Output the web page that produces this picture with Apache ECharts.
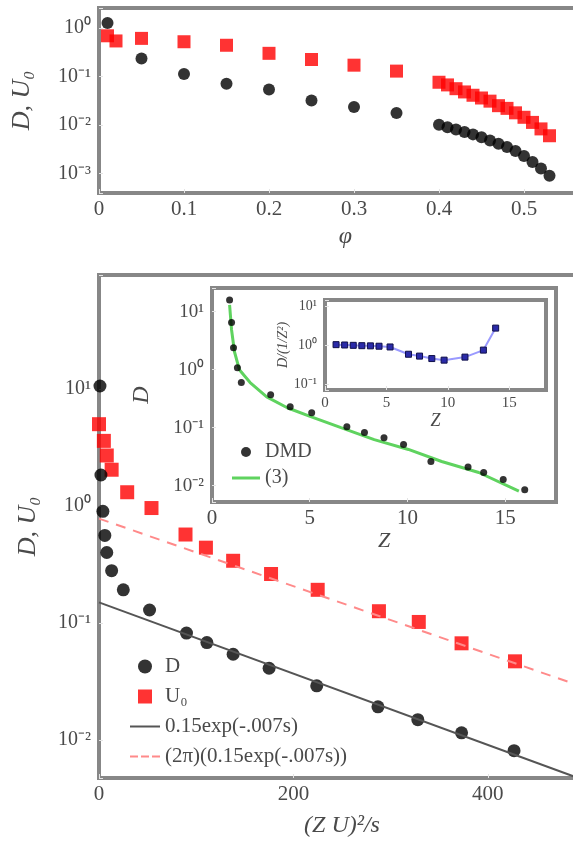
<!DOCTYPE html>
<html>
<head>
<meta charset="utf-8">
<script src="https://cdn.jsdelivr.net/npm/echarts@6/dist/echarts.min.js"></script>
<style>
html, body { margin: 0; padding: 0; background: #fff; }
#chart { width: 573px; height: 850px; }
</style>
</head>
<body>
<div id="chart"></div>
<script>
// top panel: D and U0 against phi
const phiD = [0.01, 0.05, 0.10, 0.15, 0.20, 0.25, 0.30, 0.35, 0.40, 0.41, 0.42, 0.43, 0.44,
    0.45, 0.46, 0.47, 0.48, 0.49, 0.50, 0.51, 0.52, 0.53];
const topD = [1.27, 0.235, 0.112, 0.071, 0.054, 0.032, 0.0235, 0.0176, 0.0101, 0.0090, 0.0081, 0.0072, 0.0064,
    0.0056, 0.0048, 0.0041, 0.0035, 0.0029, 0.0023, 0.00173, 0.00127, 0.0009];
const phiU = [0.01, 0.02, 0.05, 0.10, 0.15, 0.20, 0.25, 0.30, 0.35, 0.40, 0.41, 0.42, 0.43, 0.44,
    0.45, 0.46, 0.47, 0.48, 0.49, 0.50, 0.51, 0.52, 0.53];
const topU = [0.69, 0.54, 0.61, 0.52, 0.44, 0.30, 0.224, 0.171, 0.129, 0.076, 0.067, 0.056, 0.048, 0.041,
    0.036, 0.031, 0.025, 0.022, 0.0178, 0.0144, 0.0113, 0.0083, 0.006];

// bottom panel: D and U0 against (Z U)^2/s
const sD = [1, 2, 4, 6, 8, 13, 25, 52, 90, 111, 138, 175, 224, 287, 328, 373, 427];
const bottomD = [10.6, 1.84, 0.90, 0.56, 0.40, 0.28, 0.192, 0.129, 0.082, 0.068, 0.054, 0.041, 0.029,
    0.0192, 0.0149, 0.0115, 0.0081];
const sU = [0, 5, 8, 13, 29, 54, 89, 110, 138, 177, 225, 288, 329, 373, 428];
const bottomU = [5.0, 3.6, 2.7, 2.04, 1.31, 0.96, 0.57, 0.44, 0.34, 0.262, 0.192, 0.126, 0.102, 0.067, 0.047];
const fitS = [0, 500];
const fitD = [0.15, 0.0045];
const fitU = [0.78, 0.028];

// inset: D against Z
const zDMD = [0.9, 1.0, 1.1, 1.3, 1.5, 3.0, 4.0, 5.1, 6.9, 7.8, 8.8, 9.8, 11.2, 13.1, 13.9, 14.9, 16.0];
const dDMD = [16, 6.5, 2.4, 1.08, 0.6, 0.37, 0.23, 0.18, 0.104, 0.082, 0.067, 0.051, 0.026, 0.021,
    0.0168, 0.0127, 0.0085];
const zFit = [0.9, 1.0, 1.15, 1.4, 1.95, 2.8, 3.85, 5.05, 6.6, 8.3, 10.05, 11.75, 13.65, 15.7];
const dFit = [13.2, 4.9, 2.04, 1.0, 0.60, 0.34, 0.22, 0.155, 0.100, 0.062, 0.042, 0.026, 0.0168, 0.008];

// small inset: ratio against Z
const zRatio = [0.9, 1.6, 2.3, 3.0, 3.7, 4.4, 5.3, 6.8, 7.7, 8.7, 9.7, 11.4, 12.9, 13.9];
const ratio = [1.02, 1.0, 0.98, 0.96, 0.95, 0.93, 0.89, 0.58, 0.52, 0.45, 0.41, 0.49, 0.74, 2.7];

const serif = 'Liberation Serif';
const frame = '#878787';
const ink = '#4a4a4a';

function zip(xs, ys) {
    return xs.map(function (x, i) { return [x, ys[i]]; });
}

const supChars = {'-': '⁻', '0': '⁰', '1': '¹', '2': '²', '3': '³', '4': '⁴'};
function powLabel(v) {
    const e = Math.log10(v);
    const r = Math.round(e);
    if (Math.abs(e - r) > 1e-6) return '';
    return '10' + String(r).split('').map(function (c) { return supChars[c]; }).join('');
}

function makeGrid(left, top, right, bottom) {
    return {
        left: left, top: top, right: right, bottom: bottom,
        show: true, backgroundColor: '#fff',
        borderColor: frame, borderWidth: 4,
        containLabel: false, outerBoundsMode: 'none'
    };
}

function valueX(gridIndex, min, max, interval, fontSize, name, nameGap, nameSize) {
    return {
        type: 'value', gridIndex: gridIndex, min: min, max: max, interval: interval,
        splitLine: {show: false},
        axisLine: {show: false},
        axisTick: {inside: true, length: 4, lineStyle: {color: '#e4e4e4'}},
        axisLabel: {showMaxLabel: false, fontFamily: serif, fontSize: fontSize, color: ink, margin: 6},
        name: name, nameLocation: 'middle', nameGap: nameGap,
        nameTextStyle: {fontFamily: serif, fontStyle: 'italic', fontSize: nameSize, color: ink}
    };
}

function logY(gridIndex, min, max, fontSize, name, nameGap, nameSize) {
    return {
        type: 'log', logBase: 10, gridIndex: gridIndex, min: min, max: max,
        splitLine: {show: false},
        axisLine: {show: false},
        axisTick: {inside: true, length: 4, lineStyle: {color: '#e4e4e4'}},
        axisLabel: {formatter: powLabel, fontFamily: serif, fontSize: fontSize, color: ink, margin: 8},
        name: name, nameLocation: 'middle', nameGap: nameGap, nameRotate: 90,
        nameTextStyle: {fontFamily: serif, fontStyle: 'italic', fontSize: nameSize, color: ink}
    };
}

// legend icons: square marker, solid and dashed line
const squareIcon = 'path://M0,0h10v10h-10z';
const solidIcon = 'path://M0,0h30v2h-30z';
const dashIcon = 'path://M0,0h8v2h-8zM11,0h8v2h-8zM22,0h8v2h-8z';
const greenIcon = 'path://M0,0h28v3h-28z';

const chart = echarts.init(document.getElementById('chart'));

const option = {
    animation: false,
    backgroundColor: '#fff',
    grid: [
        makeGrid(99, 8, -19, 657),
        makeGrid(99, 275, -12, 72),
        makeGrid(212, 288, 17, 348),
        makeGrid(325, 300, 27, 460)
    ],
    xAxis: [
        valueX(0, 0, 0.58, 0.1, 21, 'φ', 32, 24),
        valueX(1, 0, 500, 200, 21, '(Z U)²/s', 36, 24),
        valueX(2, 0, 17.6, 5, 21, 'Z', 28, 22),
        valueX(3, 0, 18, 5, 15, 'Z', 20, 18)
    ],
    yAxis: [
        logY(0, 0.000396, 2.58, 20, 'D, U₀', 64, 26),
        logY(1, 0.00473, 94.2, 20, 'D, U₀', 58, 26),
        logY(2, 0.0052, 25.7, 19, 'D', 58, 24),
        logY(3, 0.0708, 14.1, 14, 'D/(1/Z²)', 34, 14)
    ],
    legend: [
        {
            orient: 'vertical', left: 125, top: 651,
            itemWidth: 30, itemHeight: 14, itemGap: 9,
            textStyle: {fontFamily: serif, fontSize: 21, color: ink},
            data: [
                {name: 'D', icon: 'circle'},
                {name: 'U₀', icon: squareIcon},
                {name: '0.15exp(-.007s)', icon: solidIcon},
                {name: '(2π)(0.15exp(-.007s))', icon: dashIcon}
            ]
        },
        {
            orient: 'vertical', left: 227, top: 437,
            itemWidth: 28, itemHeight: 10, itemGap: 6,
            textStyle: {fontFamily: serif, fontSize: 20, color: ink},
            data: [
                {name: 'DMD', icon: 'circle'},
                {name: '(3)', icon: greenIcon}
            ]
        }
    ],
    series: [
        {
            name: 'phiU', type: 'scatter', xAxisIndex: 0, yAxisIndex: 0,
            symbol: 'rect', symbolSize: 13, itemStyle: {color: '#ff0000'},
            data: zip(phiU, topU)
        },
        {
            name: 'phiD', type: 'scatter', xAxisIndex: 0, yAxisIndex: 0,
            symbol: 'circle', symbolSize: 12, itemStyle: {color: '#000'},
            data: zip(phiD, topD)
        },
        {
            name: '0.15exp(-.007s)', type: 'line', xAxisIndex: 1, yAxisIndex: 1,
            symbol: 'none', itemStyle: {color: '#555'},
            lineStyle: {color: '#555', width: 2},
            data: zip(fitS, fitD)
        },
        {
            name: '(2π)(0.15exp(-.007s))', type: 'line', xAxisIndex: 1, yAxisIndex: 1,
            symbol: 'none', itemStyle: {color: '#ff8a8a'},
            lineStyle: {color: '#ff8a8a', width: 2, type: [10, 8]},
            data: zip(fitS, fitU)
        },
        {
            name: 'U₀', type: 'scatter', xAxisIndex: 1, yAxisIndex: 1,
            symbol: 'rect', symbolSize: 14, itemStyle: {color: '#ff0000'},
            data: zip(sU, bottomU)
        },
        {
            name: 'D', type: 'scatter', xAxisIndex: 1, yAxisIndex: 1,
            symbol: 'circle', symbolSize: 13, itemStyle: {color: '#000'},
            data: zip(sD, bottomD)
        },
        {
            name: '(3)', type: 'line', xAxisIndex: 2, yAxisIndex: 2,
            symbol: 'none', itemStyle: {color: '#5fd35f'},
            lineStyle: {color: '#5fd35f', width: 3},
            data: zip(zFit, dFit)
        },
        {
            name: 'DMD', type: 'scatter', xAxisIndex: 2, yAxisIndex: 2,
            symbol: 'circle', symbolSize: 7, itemStyle: {color: '#000'},
            data: zip(zDMD, dDMD), z: 3
        },
        {
            name: 'ratio', type: 'line', xAxisIndex: 3, yAxisIndex: 3,
            symbol: 'rect', symbolSize: 6,
            itemStyle: {color: '#2a2aa8', borderColor: '#10104a', borderWidth: 1},
            lineStyle: {color: '#9a9aff', width: 2},
            data: zip(zRatio, ratio)
        }
    ]
};

chart.setOption(option);
</script>
</body>
</html>
